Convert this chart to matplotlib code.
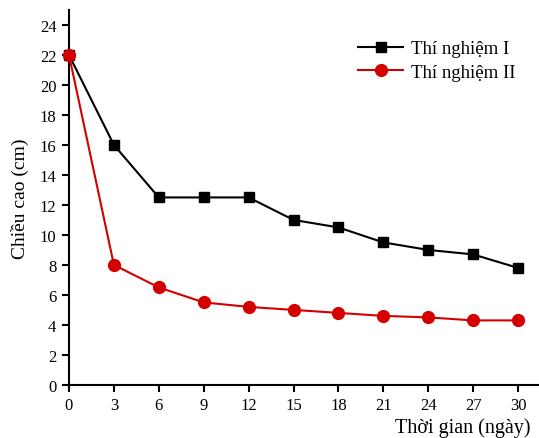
import numpy as np
import matplotlib
matplotlib.use('Agg')
import matplotlib.pyplot as plt

plt.rcParams['font.family'] = ['Liberation Serif', 'DejaVu Serif']

days = [0, 3, 6, 9, 12, 15, 18, 21, 24, 27, 30]
tn1 = [22, 16, 12.5, 12.5, 12.5, 11, 10.5, 9.5, 9.0, 8.7, 7.8]
tn2 = [22, 8, 6.5, 5.5, 5.2, 5.0, 4.8, 4.6, 4.5, 4.3, 4.3]

fig = plt.figure(figsize=(5.39, 4.39), dpi=100)
ax = fig.add_axes([0.128, 0.121, 0.872, 0.854])

ax.plot(days, tn1, color='black', marker='s', markersize=7, linewidth=1.5,
        label='Thí nghiệm I', clip_on=False, zorder=3)
ax.plot(days, tn2, color='#d40000', marker='o', markersize=8.5, linewidth=1.5,
        label='Thí nghiệm II', clip_on=False, zorder=4)

ax.set_xlim(0, 31.4)
ax.set_ylim(0, 25)
ax.set_xticks(days)
ax.set_yticks(np.arange(0, 25, 2))
ax.spines['top'].set_visible(False)
ax.spines['right'].set_visible(False)
ax.spines['left'].set_linewidth(1.5)
ax.spines['bottom'].set_linewidth(1.5)
ax.tick_params(direction='out', length=5, width=1.5, labelsize=12, pad=4)

ax.set_ylabel('Chiều cao (cm)', fontsize=14, labelpad=8)
ax.set_xlabel('Thời gian (ngày)', fontsize=14.5, loc='right', labelpad=3)
ax.xaxis.label.set_x(0.982)

ax.legend(loc='upper right', bbox_to_anchor=(0.985, 0.965), frameon=False, fontsize=13.5,
          handlelength=2.4, handletextpad=0.4, labelspacing=0.35)

fig.savefig('out.png', dpi=100)
